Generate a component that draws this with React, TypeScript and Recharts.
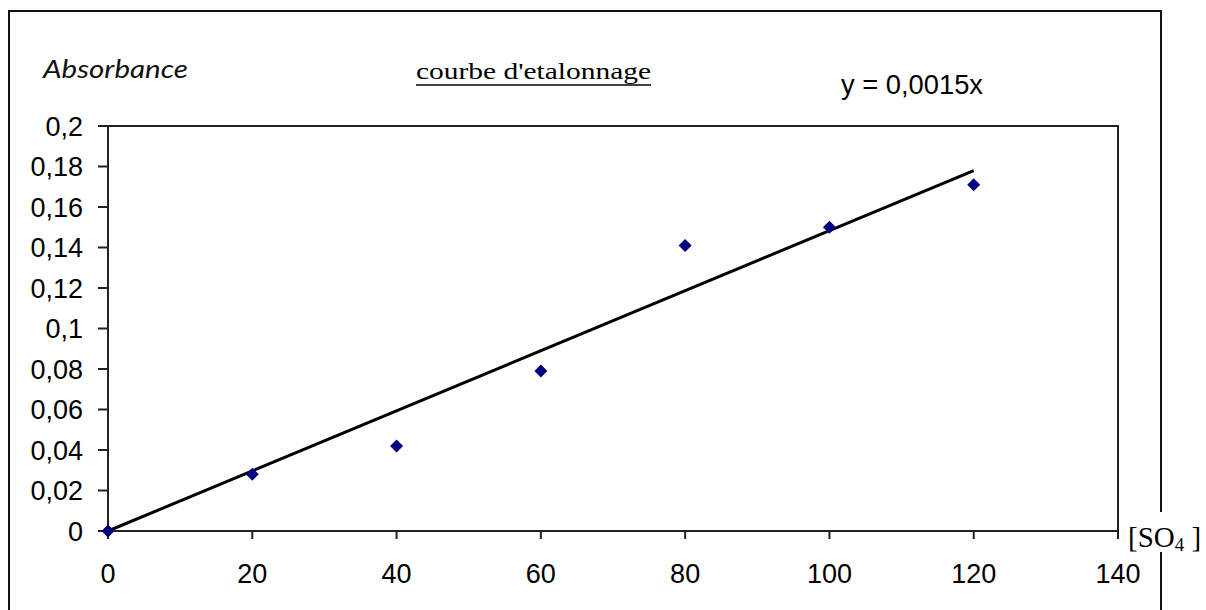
import React from "react";
import {
  ComposedChart,
  Scatter,
  XAxis,
  YAxis,
  ReferenceLine,
  ReferenceArea,
} from "recharts";

// [SO4] concentrations and measured absorbance
const concentrations = [0, 20, 40, 60, 80, 100, 120];
const absorbances = [0, 0.028, 0.042, 0.079, 0.141, 0.15, 0.171];

// linear trendline y = 0,0015x as drawn (0 -> 120)
const trendX = [0, 120];
const trendY = [0, 0.178];

const xTicks = [0, 20, 40, 60, 80, 100, 120, 140];
const yTicks = [0, 0.02, 0.04, 0.06, 0.08, 0.1, 0.12, 0.14, 0.16, 0.18, 0.2];

const points = concentrations.map((x, i) => ({ x, y: absorbances[i] }));
const trend = trendX.map((x, i) => ({ x, y: trendY[i] }));

const AXIS = "#222";
const tickStyle = { fill: "#000", fontSize: 27, fontFamily: "'Liberation Sans', Arial, sans-serif" };

function Diamond(props: { cx?: number; cy?: number }) {
  const { cx = 0, cy = 0 } = props;
  const r = 6.5;
  return (
    <polygon
      points={`${cx},${cy - r} ${cx + r},${cy} ${cx},${cy + r} ${cx - r},${cy}`}
      fill="#000080"
    />
  );
}

const fmt = (v: number) => String(v).replace(".", ",");

export default function App() {
  return (
    <div style={{ position: "absolute", left: 0, top: 0, width: 1206, height: 610, background: "#fff", overflow: "hidden" }}>
      <ComposedChart
        width={1206}
        height={610}
        margin={{ top: 126, right: 88, bottom: 0, left: 0 }}
      >
        <XAxis
          dataKey="x"
          type="number"
          domain={[0, 140]}
          ticks={xTicks}
          height={79}
          tickSize={8}
          tickMargin={25}
          tick={tickStyle}
          axisLine={{ stroke: AXIS, strokeWidth: 2 }}
          tickLine={{ stroke: AXIS, strokeWidth: 2 }}
        />
        <YAxis
          type="number"
          domain={[0, 0.2]}
          ticks={yTicks}
          width={108}
          tickSize={10}
          tickMargin={15}
          tick={tickStyle}
          tickFormatter={fmt}
          axisLine={{ stroke: AXIS, strokeWidth: 2 }}
          tickLine={{ stroke: AXIS, strokeWidth: 2 }}
        />
        <ReferenceArea x1={0} x2={140} y1={0} y2={0.2} fill="none" stroke={AXIS} strokeWidth={2} />
        <ReferenceLine
          segment={trend}
          stroke="#000"
          strokeWidth={3}
          ifOverflow="visible"
        />
        <Scatter data={points} dataKey="y" shape={<Diamond />} isAnimationActive={false} />
      </ComposedChart>

      <svg width={1206} height={610} style={{ position: "absolute", left: 0, top: 0, pointerEvents: "none" }}>
        <rect x={9} y={11} width={1152} height={640} fill="none" stroke="#111" strokeWidth={2} />
        <rect x={1150} y={512} width={22} height={40} fill="#fff" />
        <text
          x={43}
          y={78}
          fontSize={26}
          fontStyle="italic"
          fontFamily="Lato, 'Open Sans', sans-serif"
          fill="#111"
          textLength={145}
          lengthAdjust="spacingAndGlyphs"
        >
          Absorbance
        </text>
        <text
          x={416}
          y={79}
          fontSize={24}
          fontFamily="'Liberation Serif', 'Times New Roman', serif"
          fill="#000"
          textLength={235}
          lengthAdjust="spacingAndGlyphs"
        >
          courbe d'etalonnage
        </text>
        <line x1={416} x2={651} y1={85} y2={85} stroke="#000" strokeWidth={1.5} />
        <text
          x={841}
          y={94}
          fontSize={27}
          fontFamily="'Liberation Sans', Arial, sans-serif"
          fill="#000"
          textLength={142}
          lengthAdjust="spacingAndGlyphs"
        >
          y = 0,0015x
        </text>
        <text x={1128} y={547} fontSize={29} fontFamily="'Liberation Serif', 'Times New Roman', serif" fill="#000">
          [SO
          <tspan fontSize={19} dy={4}>4</tspan>
          <tspan dy={-4}>{" ]"}</tspan>
        </text>
      </svg>
    </div>
  );
}
